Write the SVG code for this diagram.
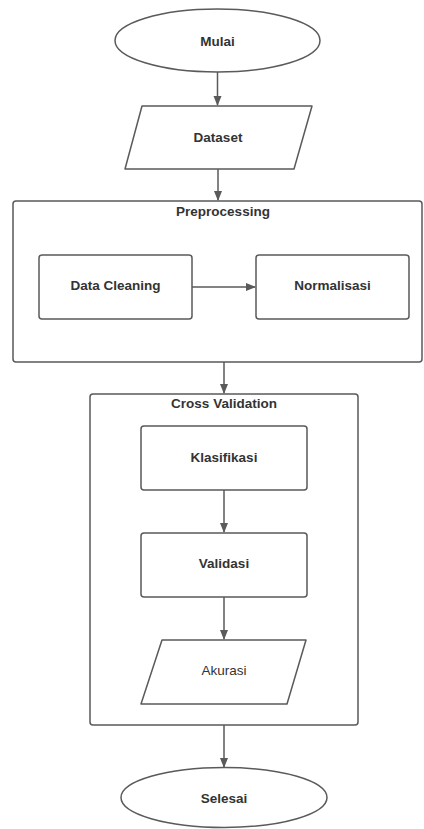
<svg xmlns="http://www.w3.org/2000/svg" width="424" height="829" viewBox="0 0 424 829">
<style>
.s{fill:#fff;stroke:#5a5a5a;stroke-width:1.5}
.c{fill:none;stroke:#5a5a5a;stroke-width:1.5}
text{font-family:"Liberation Sans",Arial,sans-serif;font-size:13.5px;fill:#333;text-anchor:middle;dominant-baseline:central}
.b{font-weight:bold}
</style>
<defs>
<marker id="a" markerWidth="10" markerHeight="10" refX="9" refY="5" orient="auto" markerUnits="userSpaceOnUse">
<path d="M0,1 L10,5 L0,9 Z" fill="#5a5a5a"/>
</marker>
</defs>
<rect width="424" height="829" fill="#fff"/>
<g id="preprocessing">
<rect class="s" x="13" y="201" width="409" height="161" rx="3"/>
<text class="b" x="223" y="211">Preprocessing</text>
</g>
<g id="crossvalidation">
<rect class="s" x="90" y="394" width="268" height="331" rx="3"/>
<text class="b" x="224" y="403">Cross Validation</text>
</g>
<g id="mulai">
<ellipse class="s" cx="217.5" cy="40.5" rx="102.5" ry="31.5"/>
<text class="b" x="217.5" y="41">Mulai</text>
</g>
<g id="dataset">
<path class="s" d="M142,106 L312,106 L294,169 L125,169 Z" stroke-linejoin="round"/>
<text class="b" x="218" y="137">Dataset</text>
</g>
<g id="datacleaning">
<rect class="s" x="39" y="255" width="153" height="64" rx="3"/>
<text class="b" x="115.5" y="285">Data Cleaning</text>
</g>
<g id="normalisasi">
<rect class="s" x="256" y="255" width="153" height="64" rx="3"/>
<text class="b" x="332.5" y="285">Normalisasi</text>
</g>
<g id="klasifikasi">
<rect class="s" x="141" y="426" width="166" height="64" rx="3"/>
<text class="b" x="224" y="457">Klasifikasi</text>
</g>
<g id="validasi">
<rect class="s" x="141" y="533" width="166" height="64" rx="3"/>
<text class="b" x="224" y="563">Validasi</text>
</g>
<g id="akurasi">
<path class="s" d="M162,640 L306,640 L287,704 L141,704 Z" stroke-linejoin="round"/>
<text x="224" y="670">Akurasi</text>
</g>
<g id="selesai">
<ellipse class="s" cx="224" cy="797.5" rx="103" ry="30"/>
<text class="b" x="224" y="798">Selesai</text>
</g>
<g id="connectors">
<line class="c" x1="217.5" y1="72" x2="217.5" y2="105" marker-end="url(#a)"/>
<line class="c" x1="218" y1="169" x2="218" y2="200" marker-end="url(#a)"/>
<line class="c" x1="192" y1="287" x2="255" y2="287" marker-end="url(#a)"/>
<line class="c" x1="224" y1="362" x2="224" y2="393" marker-end="url(#a)"/>
<line class="c" x1="224" y1="490" x2="224" y2="532" marker-end="url(#a)"/>
<line class="c" x1="224" y1="597" x2="224" y2="639" marker-end="url(#a)"/>
<line class="c" x1="224" y1="725" x2="224" y2="767" marker-end="url(#a)"/>
</g>
</svg>
